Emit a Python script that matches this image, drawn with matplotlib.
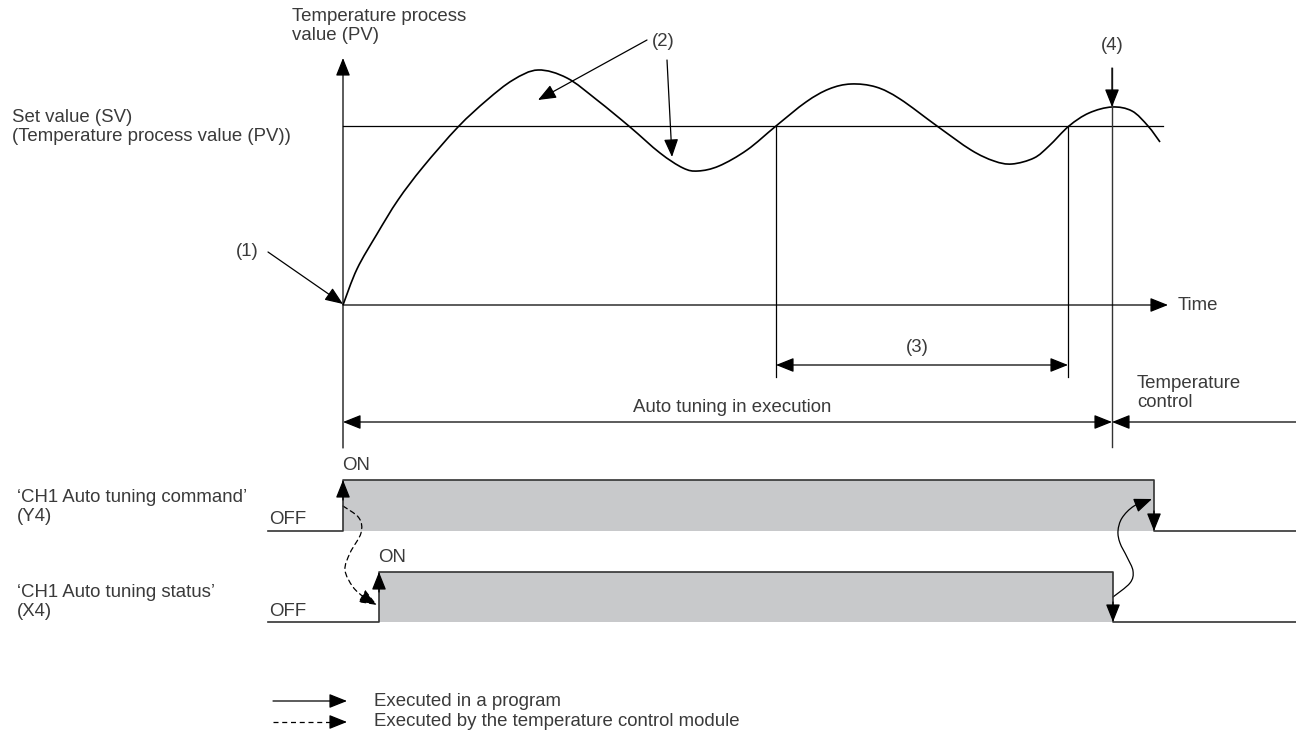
import matplotlib.pyplot as plt
import matplotlib as mpl
from matplotlib.patches import FancyArrowPatch, PathPatch
from matplotlib.path import Path

mpl.rcParams['font.family'] = ['Liberation Sans', 'DejaVu Sans']
mpl.rcParams['font.size'] = 13.4

# Temperature process value (PV) curve (pixel coords)
pv_x = [343, 357, 377, 398, 423, 458, 487, 513, 538, 567, 597, 630, 660, 683,
        698, 719, 747, 776, 806, 829, 851, 876, 900, 937, 971, 994, 1012, 1034,
        1049, 1069, 1089, 1112, 1132, 1148, 1160]
pv_y = [305, 269, 234, 200, 167, 127, 100, 80, 70, 78, 100, 127, 153, 168,
        171, 166, 150, 126, 102, 89, 84, 87, 99, 126, 150, 161, 164, 158,
        146, 126, 113, 107, 111, 126, 142]
sv_level = 126
t_start = 343          # auto tuning start
t_cross = [776, 1068]  # (3) interval
t_end = 1112           # auto tuning complete (4)

# ON/OFF signals: (rise, fall, high y, low y)
cmd_sig = (343, 1154, 480, 531)
sts_sig = (379, 1113, 572, 622)

# curved cause/effect arrows
dash_x = [343, 359, 361, 350, 345, 353, 365, 377]
dash_y = [506, 518, 533, 553, 570, 587, 598, 605]
solid_x = [1113, 1130, 1133, 1127, 1120, 1118, 1122, 1134, 1152]
solid_y = [597, 583, 571, 557, 543, 531, 518, 506, 499]

TXT = '#3a3a3a'
LN = 'black'
HEAD = '-|>,head_length=0.55,head_width=0.22'
HEAD2 = '<|-|>,head_length=0.55,head_width=0.22'

fig = plt.figure(figsize=(12.96, 7.47), dpi=100)
ax = fig.add_axes([0, 0, 1, 1])
ax.set_xlim(0, 1296)
ax.set_ylim(747, 0)
ax.axis('off')


def smooth(xs, ys):
    # Bezier path through the read points (Catmull-Rom tangents)
    pts = list(zip(xs, ys))
    verts = [pts[0]]
    codes = [Path.MOVETO]
    for i in range(len(pts) - 1):
        p0 = pts[max(i - 1, 0)]
        p1 = pts[i]
        p2 = pts[i + 1]
        p3 = pts[min(i + 2, len(pts) - 1)]
        c1 = (p1[0] + (p2[0] - p0[0]) / 6, p1[1] + (p2[1] - p0[1]) / 6)
        c2 = (p2[0] - (p3[0] - p1[0]) / 6, p2[1] - (p3[1] - p1[1]) / 6)
        verts += [c1, c2, p2]
        codes += [Path.CURVE4] * 3
    return Path(verts, codes)


def arrow(tail, tip, style=HEAD, ls='-', lw=0.9):
    ax.annotate('', xy=tip, xytext=tail,
                arrowprops=dict(arrowstyle=style, color=LN, lw=lw, ls=ls,
                                shrinkA=0, shrinkB=0, mutation_scale=20))


# axes
arrow((t_start, 448), (t_start, 58))
arrow((t_start, 305), (1168, 305))
ax.plot([t_start, 1163], [sv_level, sv_level], color=LN, lw=0.9)
ax.add_patch(PathPatch(smooth(pv_x, pv_y), fill=False, color=LN, lw=1.2))

# vertical markers
for x in t_cross:
    ax.plot([x, x], [sv_level, 377], color=LN, lw=0.9)
ax.plot([t_end, t_end], [68, 447], color='#333333', lw=1.0)
arrow((t_end, 68), (t_end, 107))

# interval arrows
arrow((t_cross[0], 365), (t_cross[1], 365), HEAD2)
arrow((t_start, 422), (t_end, 422), HEAD2)
arrow((1296, 422), (t_end, 422))

# callouts
arrow((268, 252), (343, 304))
arrow((647, 40), (538, 100))
arrow((667, 60), (672, 157))

# text
ax.text(292, 26, 'Temperature process\nvalue (PV)', color=TXT, va='center', ha='left', linespacing=1.2)
ax.text(12, 127, 'Set value (SV)\n(Temperature process value (PV))', color=TXT, va='center', ha='left', linespacing=1.2)
ax.text(247, 252, '(1)', color=TXT, va='center', ha='center')
ax.text(663, 42, '(2)', color=TXT, va='center', ha='center')
ax.text(917, 347, '(3)', color=TXT, va='center', ha='center')
ax.text(t_end, 46, '(4)', color=TXT, va='center', ha='center')
ax.text(1178, 305, 'Time', color=TXT, va='center', ha='left')
ax.text(732, 408, 'Auto tuning in execution', color=TXT, va='center', ha='center')
ax.text(1137, 393, 'Temperature\ncontrol', color=TXT, va='center', ha='left', linespacing=1.2)

# signals
for (rise, fall, hi, lo), name, y_lbl in [(cmd_sig, '\u2018CH1 Auto tuning command\u2019\n(Y4)', 507),
                                           (sts_sig, '\u2018CH1 Auto tuning status\u2019\n(X4)', 602)]:
    ax.fill_between([rise, fall], hi, lo, color='#c8c9cb', lw=0)
    ax.plot([268, rise, rise, fall, fall, 1296], [lo, lo, hi, hi, lo, lo], color='#333333', lw=1.2)
    arrow((rise, hi + 20), (rise, hi))
    arrow((fall, lo - 20), (fall, lo))
    ax.text(269, lo - 11, 'OFF', color=TXT, va='center', ha='left')
    ax.text(rise - 1, hi - 15, 'ON', color=TXT, va='center', ha='left')
    ax.text(17, y_lbl, name, color=TXT, va='center', ha='left', linespacing=1.2)

ax.add_patch(FancyArrowPatch(path=smooth(dash_x, dash_y), arrowstyle=HEAD,
                             mutation_scale=20, color=LN, lw=0.9, ls=(0, (4, 3))))
ax.add_patch(FancyArrowPatch(path=smooth(solid_x, solid_y), arrowstyle=HEAD,
                             mutation_scale=20, color=LN, lw=0.9))

# legend
arrow((273, 701), (347, 701))
ax.plot([273, 333], [722, 722], color=LN, lw=0.9, ls=(0, (4, 3)))
arrow((333, 722), (347, 722))
ax.text(374, 701, 'Executed in a program', color=TXT, va='center', ha='left')
ax.text(374, 722, 'Executed by the temperature control module', color=TXT, va='center', ha='left')

plt.savefig('out.png', dpi=100)
